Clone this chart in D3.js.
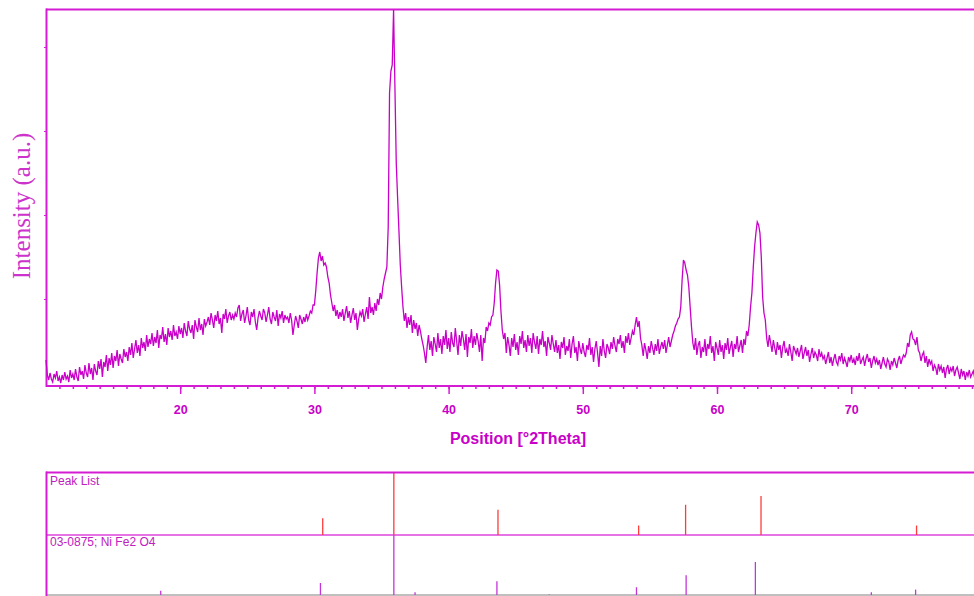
<!DOCTYPE html>
<html>
<head>
<meta charset="utf-8">
<script src="https://cdn.jsdelivr.net/npm/d3@7"></script>
<style>
  body { margin: 0; background: #fff; }
  svg { display: block; }
</style>
</head>
<body>
<div id="chart"></div>
<script>
// XRD scan, counts (0.1 deg steps from 10 deg)
const scanStart = 10;
const scanStep = 0.1;
const counts = [
  // 10.0 - 11.9
  23, 8, 3, 10, 4, 1, 9, 5, 12, 2, 6, 0, 8, 3, 11, 4, 7, 1, 13, 5,
  // 12.0
  9, 3, 14, 6, 2, 16, 8, 12, 4, 18, 10, 6, 20, 9, 15, 3, 19, 12, 8, 22,
  // 14.0
  14, 24, 6, 21, 16, 28, 12, 25, 18, 30, 15, 27, 22, 33, 17, 29, 24, 20, 34, 26,
  // 16.0
  31, 22, 36, 28, 40, 25, 34, 43, 30, 38, 27, 45, 35, 41, 32, 48, 36, 44, 39, 50,
  // 18.0
  37, 46, 40, 53, 35, 48, 44, 56, 41, 49, 38, 55, 46, 52, 43, 58, 47, 51, 44, 57,
  // 20.0
  49, 55, 45, 60, 52, 47, 62, 54, 50, 58, 44, 63, 56, 51, 65, 53, 59, 48, 64, 57,
  // 22.0
  61, 66, 58, 70, 63, 55, 68, 62, 72, 59, 65, 50, 69, 64, 74, 60, 67, 71, 63, 68,
  // 24.0
  64, 70, 66, 75, 78, 62, 69, 73, 60, 67, 76, 63, 58, 71, 66, 74, 61, 53, 65, 72,
  // 26.0
  67, 63, 74, 70, 61, 68, 76, 64, 59, 71, 66, 62, 73, 57, 69, 65, 72, 60, 68, 64,
  // 28.0
  66, 60, 70, 63, 48, 58, 67, 62, 55, 68, 64, 59, 66, 61, 69, 63, 67, 72, 70, 78,
  // 30.0
  78, 92, 110, 125, 131, 122, 127, 118, 120, 116, 106, 100, 88, 80, 72, 78, 67, 73, 64, 71,
  // 32.0
  66, 74, 62, 70, 77, 65, 72, 60, 68, 75, 63, 70, 53, 64, 71, 67, 74, 61, 69, 76,
  // 34.0
  64, 86, 70, 76, 68, 80, 72, 84, 78, 90, 84, 96, 104, 110, 116, 156, 290, 312, 318, 373,
  // 36.0
  296, 220, 185, 152, 118, 96, 76, 62, 70, 55, 66, 58, 68, 50, 63, 54, 60, 47, 58, 52,
  // 38.0
  44, 38, 30, 20, 36, 48, 33, 42, 27, 46, 39, 31, 50, 35, 44, 29, 47, 38, 53, 34,
  // 40.0
  45, 31, 51, 40, 36, 55, 42, 28, 48, 37, 52, 44, 33, 49, 26, 46, 40, 54, 35, 47,
  // 42.0
  38, 50, 42, 31, 48, 22, 45, 40, 56, 52, 60, 58, 66, 68, 80, 100, 113, 112, 98, 72,
  // 44.0
  53, 44, 50, 30, 46, 38, 27, 45, 36, 49, 33, 41, 28, 47, 39, 52, 35, 43, 31, 48,
  // 46.0
  37, 45, 30, 50, 41, 34, 47, 29, 44, 38, 52, 36, 42, 27, 46, 40, 33, 48, 39, 31,
  // 48.0
  43, 30, 38, 24, 41, 35, 46, 28, 37, 32, 44, 25, 39, 47, 30, 36, 22, 42, 34, 29,
  // 50.0
  40, 31, 26, 38, 33, 45, 28, 36, 21, 34, 42, 30, 16, 37, 27, 44, 32, 25, 39, 35,
  // 52.0
  29, 41, 34, 46, 37, 31, 44, 39, 48, 35, 42, 30, 47, 40, 50, 38, 45, 52, 48, 58,
  // 54.0
  66, 56, 62, 45, 38, 27, 40, 33, 24, 37, 30, 42, 35, 28, 39, 32, 44, 29, 36, 41,
  // 56.0
  34, 43, 30, 38, 46, 36, 42, 48, 52, 57, 60, 64, 66, 76, 103, 123, 120, 113, 108, 96,
  // 58.0
  76, 56, 40, 33, 45, 28, 38, 42, 25, 36, 31, 44, 27, 39, 34, 47, 30, 37, 22, 41,
  // 60.0
  35, 28, 43, 31, 38, 24, 40, 33, 45, 29, 36, 42, 26, 39, 34, 47, 31, 37, 43, 30,
  // 62.0
  44, 38, 52, 47, 58, 76, 90, 115, 136, 150, 161, 158, 150, 126, 86, 70, 63, 45, 36, 48,
  // 64.0
  40, 31, 43, 35, 28, 41, 33, 38, 25, 36, 42, 30, 34, 27, 39, 31, 22, 37, 33, 29,
  // 66.0
  35, 26, 32, 38, 24, 30, 36, 27, 33, 21, 29, 35, 25, 31, 28, 22, 34, 26, 30, 24,
  // 68.0
  27, 19, 25, 31, 20, 26, 17, 24, 29, 21, 18, 27, 23, 30, 19, 25, 21, 16, 26, 22,
  // 70.0
  28, 20, 24, 18, 27, 22, 30, 19, 23, 26, 17, 24, 29, 21, 25, 15, 22, 27, 20, 24,
  // 72.0
  18, 23, 14, 20, 26, 19, 16, 24, 21, 13, 22, 18, 25, 20, 15, 23, 27, 19, 24, 28,
  // 74.0
  26, 30, 40, 36, 48, 51, 44, 43, 38, 46, 33, 30, 22, 28, 31, 20, 27, 16, 24, 19,
  // 76.0
  22, 12, 18, 15, 8, 19, 13, 17, 10, 16, 5, 14, 18, 9, 15, 12, 17, 7, 13, 16,
  // 78.0 - 79.3
  10, 4, 14, 8, 12, 3, 11, 7, 13, 6, 9, 12, 5, 10
];

// Peak list (measured), relative intensity %
const peakPos = [30.62, 35.92, 43.68, 54.16, 57.66, 63.28, 74.87];
const peakInt = [26.5, 100, 40, 15, 48, 62, 15];

// Reference pattern 03-0875; Ni Fe2 O4
const refPos = [18.55, 30.45, 35.92, 37.5, 43.6, 47.5, 54.0, 57.7, 62.86, 71.5, 74.8, 79.2];
const refInt = [7, 20, 100, 4.5, 23, 1, 13, 33, 55, 4.5, 9, 2.5];

const majorTicks = [20, 30, 40, 50, 60, 70];
const yTicks = [84, 168, 252, 336];

const W = 974, H = 596;
const axisColor = "#d41cd4";
const lineColor = "#c800c8";

const svg = d3.select("#chart")
  .append("svg")
  .attr("width", W)
  .attr("height", H);

// scales
const x = d3.scaleLinear().domain([10, 80]).range([46, 985.4]);
const y = d3.scaleLinear().domain([-3, 374]).range([386, 9]);

// x axis: minor ticks every degree, major every 10
svg.append("g")
  .attr("transform", "translate(0,386)")
  .call(d3.axisBottom(x).tickValues(d3.range(11, 80)).tickSize(3).tickFormat(""))
  .call(g => g.select(".domain").remove())
  .selectAll("line").attr("stroke", axisColor).attr("stroke-width", 1.5);

const xMajor = svg.append("g")
  .attr("transform", "translate(0,386)")
  .call(d3.axisBottom(x).tickValues(majorTicks).tickSize(8).tickPadding(11).tickFormat(d3.format("d")));
xMajor.select(".domain").remove();
xMajor.selectAll("line").attr("stroke", axisColor).attr("stroke-width", 1.5);
xMajor.selectAll("text")
  .attr("fill", lineColor)
  .style("font-family", "Liberation Sans, Arial, sans-serif")
  .style("font-size", "12.5px")
  .style("font-weight", "bold");

// y axis ticks (no labels)
const yAxis = svg.append("g")
  .attr("transform", "translate(46,0)")
  .call(d3.axisLeft(y).tickValues(yTicks).tickSize(2).tickFormat(""));
yAxis.select(".domain").remove();
yAxis.selectAll("line").attr("stroke", axisColor);

// frame of the main plot
svg.append("line").attr("x1", 46).attr("x2", W).attr("y1", 9.5).attr("y2", 9.5)
  .attr("stroke", axisColor).attr("stroke-width", 2);
svg.append("line").attr("x1", 46.5).attr("x2", 46.5).attr("y1", 8.5).attr("y2", 387)
  .attr("stroke", axisColor).attr("stroke-width", 2);
svg.append("line").attr("x1", 46).attr("x2", W).attr("y1", 386).attr("y2", 386)
  .attr("stroke", axisColor).attr("stroke-width", 2);

// the scan
const line = d3.line()
  .x((d, i) => x(scanStart + i * scanStep))
  .y(d => y(d));

svg.append("path")
  .datum(counts)
  .attr("fill", "none")
  .attr("stroke", lineColor)
  .attr("stroke-width", 1.3)
  .attr("stroke-linejoin", "miter")
  .attr("d", line);

// axis titles
svg.append("text")
  .attr("x", 518)
  .attr("y", 444)
  .attr("text-anchor", "middle")
  .attr("fill", lineColor)
  .style("font-family", "Liberation Sans, Arial, sans-serif")
  .style("font-size", "16px")
  .style("font-weight", "bold")
  .text("Position [°2Theta]");

svg.append("text")
  .attr("transform", "translate(30,206) rotate(-90)")
  .attr("text-anchor", "middle")
  .attr("fill", "#cc33cc")
  .style("font-family", "Liberation Serif, Times New Roman, serif")
  .style("font-size", "25px")
  .text("Intensity (a.u.)");

// lower panels: peak list and reference pattern
const peakY = d3.scaleLinear().domain([0, 100]).range([535, 472]);
const refY = d3.scaleLinear().domain([0, 100]).range([595, 535]);

svg.append("line").attr("x1", 46).attr("x2", W).attr("y1", 595).attr("y2", 595)
  .attr("stroke", "#aaaaaa").attr("stroke-width", 1.5);
svg.append("line").attr("x1", 46).attr("x2", W).attr("y1", 535).attr("y2", 535)
  .attr("stroke", "#dd44dd").attr("stroke-width", 1.5);

svg.selectAll(".peak")
  .data(peakPos)
  .enter()
  .append("line")
  .attr("class", "peak")
  .attr("x1", d => x(d)).attr("x2", d => x(d))
  .attr("y1", peakY(0))
  .attr("y2", (d, i) => peakY(peakInt[i]))
  .attr("stroke", "#ff3b3b")
  .attr("stroke-width", 1.3);

svg.selectAll(".ref")
  .data(refPos)
  .enter()
  .append("line")
  .attr("class", "ref")
  .attr("x1", d => x(d)).attr("x2", d => x(d))
  .attr("y1", refY(0))
  .attr("y2", (d, i) => refY(refInt[i]))
  .attr("stroke", "#c435d8")
  .attr("stroke-width", 1.3);

svg.append("line").attr("x1", 46).attr("x2", W).attr("y1", 472.5).attr("y2", 472.5)
  .attr("stroke", axisColor).attr("stroke-width", 2);
svg.append("line").attr("x1", 46.5).attr("x2", 46.5).attr("y1", 471.5).attr("y2", H)
  .attr("stroke", axisColor).attr("stroke-width", 2);

svg.append("text")
  .attr("x", 50).attr("y", 485)
  .attr("fill", "#c020c0")
  .style("font-family", "Liberation Sans, Arial, sans-serif")
  .style("font-size", "12px")
  .text("Peak List");

svg.append("text")
  .attr("x", 50).attr("y", 546)
  .attr("fill", "#c020c0")
  .style("font-family", "Liberation Sans, Arial, sans-serif")
  .style("font-size", "12px")
  .text("03-0875; Ni Fe2 O4");
</script>
</body>
</html>
